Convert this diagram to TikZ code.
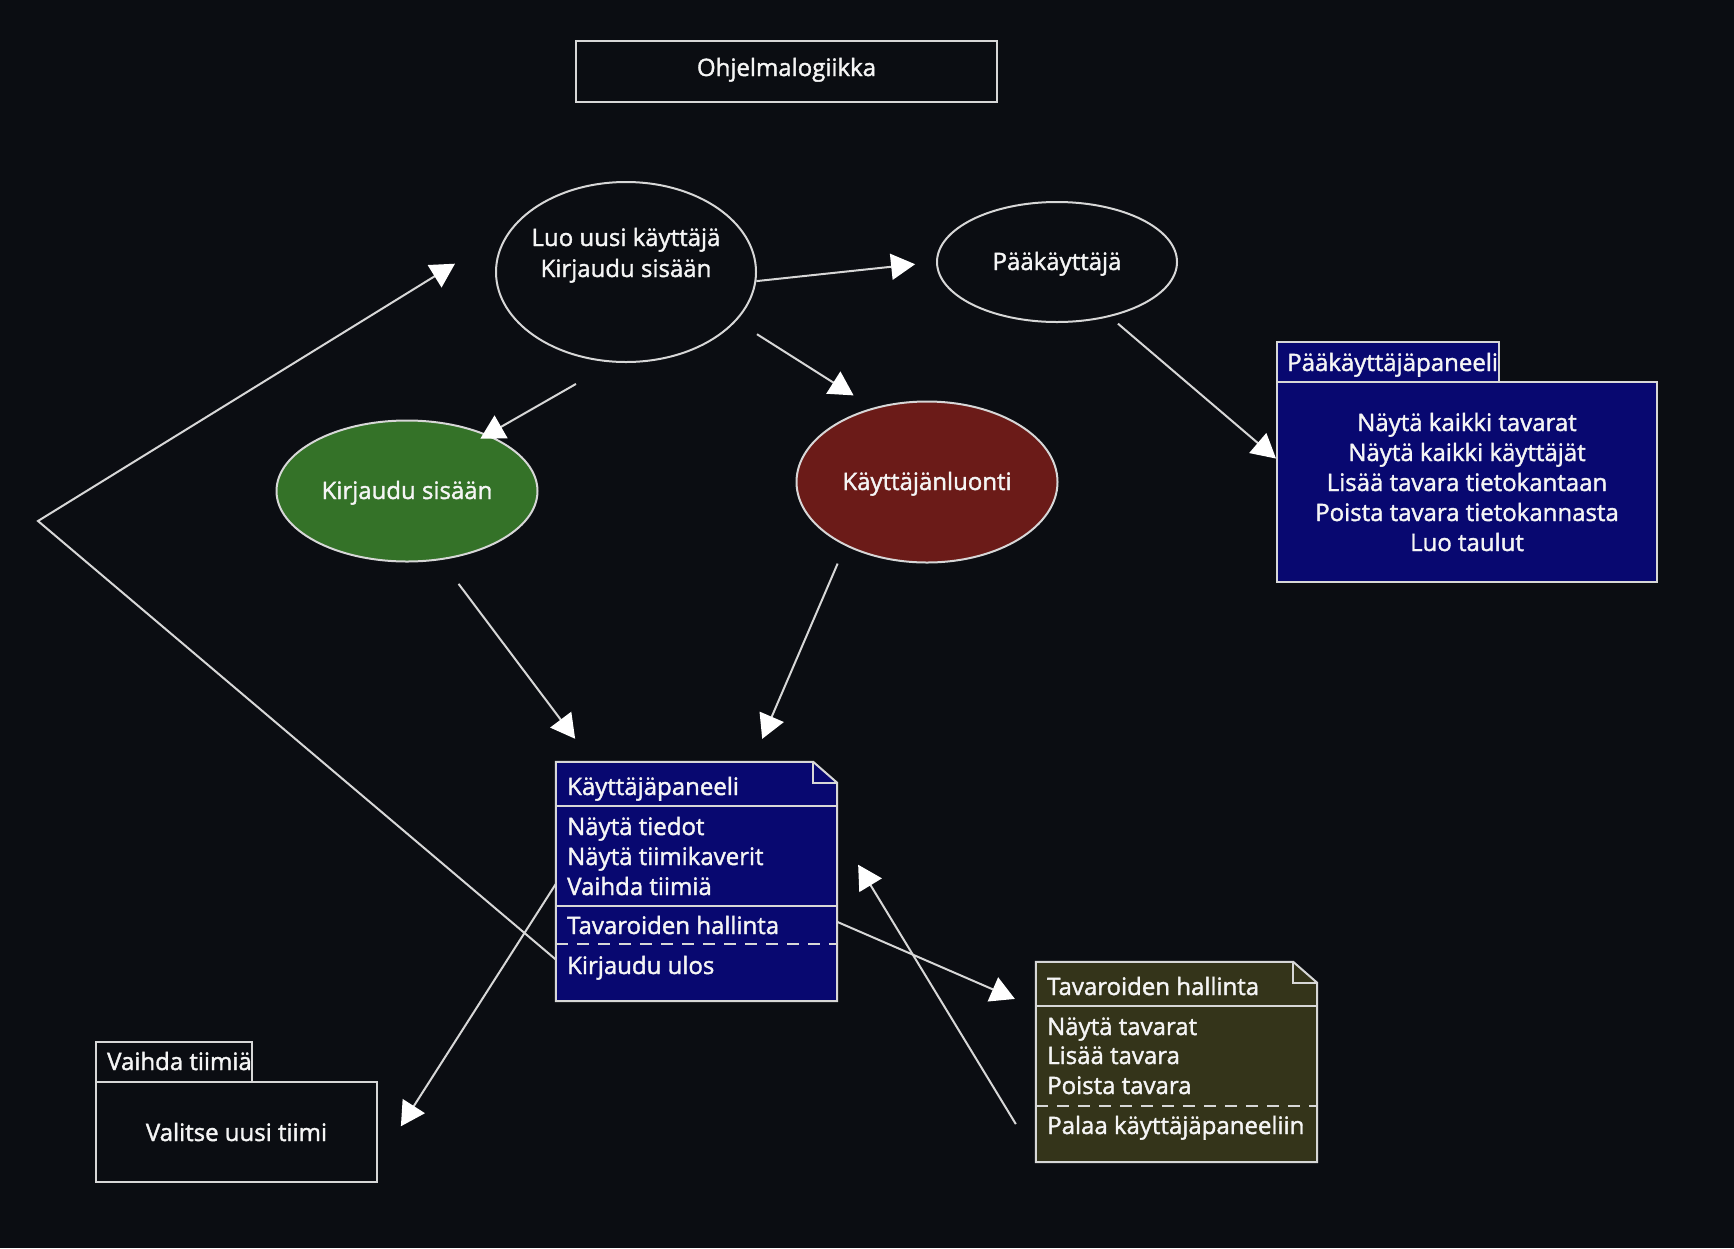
\documentclass[tikz,border=0pt]{standalone}
\usepackage{fontspec}
\setmainfont{Open Sans}
\newfontfamily\heavyfont{Open Sans}[FakeBold=1.6]
\usetikzlibrary{shapes.geometric,arrows.meta,calc}
\definecolor{bgc}{RGB}{11,13,18}
\definecolor{linec}{RGB}{215,215,215}
\definecolor{txtc}{RGB}{245,245,245}
\definecolor{navyc}{RGB}{8,8,112}
\definecolor{greenc}{RGB}{52,114,40}
\definecolor{redc}{RGB}{107,27,24}
\definecolor{olivec}{RGB}{52,52,26}
\begin{document}
\begin{tikzpicture}[x=1pt,y=-1pt,
  every node/.style={text=txtc, font=\heavyfont\fontsize{24}{30}\selectfont},
  ell/.style={ellipse, draw=linec, line width=2pt, inner sep=0pt, text height=17pt, text depth=1pt},
  ltxt/.style={inner sep=0pt, anchor=base west},
  ctxt/.style={inner sep=0pt, anchor=base},
  box/.style={rectangle, draw=linec, line width=2pt, inner sep=0pt},
  frame/.style={rectangle, inner sep=0pt},
  sepline/.style={draw=linec, line width=2pt},
  dashsep/.style={draw=linec, line width=2pt, dash pattern=on 12pt off 9pt},
  conn/.style={draw=linec, line width=2pt, -{Triangle[length=24pt,width=26pt,color=white]}},
]
\fill[bgc] (0,0) rectangle (1734,1248);
\useasboundingbox (0,0) rectangle (1734,1248);

% title
\node[box, minimum width=421pt, minimum height=61pt] (title) at (786.5,71.5) {};
\node[ctxt] (titlet) at (786.5,76) {Ohjelmalogiikka};

% ellipses
\node[ell, minimum width=260pt, minimum height=180pt] (e1) at (626,272) {};
\node[ctxt] (e1a) at (626,246) {Luo uusi käyttäjä};
\node[ctxt] (e1b) at (626,277) {Kirjaudu sisään};
\node[ell, minimum width=240pt, minimum height=120pt] (pk) at (1057,262) {Pääkäyttäjä};
\node[ell, fill=greenc, minimum width=261pt, minimum height=141pt] (ks) at (407,491) {Kirjaudu sisään};
\node[ell, fill=redc, minimum width=261pt, minimum height=161pt] (kl) at (927,482) {Käyttäjänluonti};

% Pääkäyttäjäpaneeli
\node[box, fill=navyc, minimum width=222pt, minimum height=40pt] (pkpt) at (1388,362) {};
\node[ltxt] (pkptt) at (1287,371) {Pääkäyttäjäpaneeli};
\node[box, fill=navyc, minimum width=380pt, minimum height=200pt] (pkp) at (1467,482) {};
\node[ctxt] (pkp1) at (1467,431) {Näytä kaikki tavarat};
\node[ctxt] (pkp2) at (1467,461) {Näytä kaikki käyttäjät};
\node[ctxt] (pkp3) at (1467,491) {Lisää tavara tietokantaan};
\node[ctxt] (pkp4) at (1467,521) {Poista tavara tietokannasta};
\node[ctxt] (pkp5) at (1467,551) {Luo taulut};

% Vaihda tiimiä
\node[box, minimum width=156pt, minimum height=40pt] (vtt) at (174,1062) {};
\node[ltxt] (vttt) at (107,1070) {Vaihda tiimiä};
\node[box, minimum width=281pt, minimum height=100pt] (vt) at (236.5,1132) {};
\node[ctxt] (vtb) at (236.5,1141) {Valitse uusi tiimi};

% Käyttäjäpaneeli
\node[frame, minimum width=281pt, minimum height=239pt] (kp) at (696.5,881.5) {};
\draw[line width=2pt, draw=linec, fill=navyc] (kp.north west) -- ([xshift=-24pt]kp.north east) -- ([yshift=-21pt]kp.north east) -- (kp.south east) -- (kp.south west) -- cycle;
\draw[sepline] ([xshift=-24pt]kp.north east) -- ++(0,21) -- ([yshift=-21pt]kp.north east);
\draw[sepline] ([yshift=-44pt]kp.north west) -- ([yshift=-44pt]kp.north east);
\draw[sepline] ([yshift=-144pt]kp.north west) -- ([yshift=-144pt]kp.north east);
\draw[dashsep] ([yshift=-182pt]kp.north west) -- ([yshift=-182pt]kp.north east);
\node[ltxt] (kph) at (567,795) {Käyttäjäpaneeli};
\node[ltxt] (kp1) at (567,835) {Näytä tiedot};
\node[ltxt] (kp2) at (567,865) {Näytä tiimikaverit};
\node[ltxt] (kp3) at (567,895) {Vaihda tiimiä};
\node[ltxt] (kp4) at (567,934) {Tavaroiden hallinta};
\node[ltxt] (kp5) at (567,974) {Kirjaudu ulos};

% Tavaroiden hallinta
\node[frame, minimum width=281pt, minimum height=200pt] (th) at (1176.5,1062) {};
\draw[line width=2pt, draw=linec, fill=olivec] (th.north west) -- ([xshift=-24pt]th.north east) -- ([yshift=-21pt]th.north east) -- (th.south east) -- (th.south west) -- cycle;
\draw[sepline] ([xshift=-24pt]th.north east) -- ++(0,21) -- ([yshift=-21pt]th.north east);
\draw[sepline] ([yshift=-44pt]th.north west) -- ([yshift=-44pt]th.north east);
\draw[dashsep] ([yshift=-144pt]th.north west) -- ([yshift=-144pt]th.north east);
\node[ltxt] (thh) at (1047,995) {Tavaroiden hallinta};
\node[ltxt] (th1) at (1047,1035) {Näytä tavarat};
\node[ltxt] (th2) at (1047,1064) {Lisää tavara};
\node[ltxt] (th3) at (1047,1094) {Poista tavara};
\node[ltxt] (th4) at (1047,1134) {Palaa käyttäjäpaneeliin};

% connectors
\coordinate (corner) at (38,521);
\draw[conn, shorten >=21pt] (e1.-4) -- (pk.west);
\draw[conn, shorten <=24.5pt, shorten >=23pt] (e1.-24.5) -- (kl.126.8);
\draw[conn, shorten <=43pt, shorten >=-8.5pt] (e1.-98) -- (ks.35.6);
\draw[conn, shorten <=10.5pt] (pk.-46) -- (pkp.173.1);
\draw[conn, shorten <=29.7pt, shorten >=28.8pt] (ks.-64.9) -- (kp.131.1);
\draw[conn, shorten <=19.3pt, shorten >=25pt] (kl.-142.9) -- (kp.65.4);
\draw[conn, shorten >=64.6pt] (kp.209.8) -- (corner) -- (e1.160.5);
\draw[conn, shorten >=42.5pt] (kp.181.4) -- (vt.-12.8);
\draw[conn, shorten >=22.8pt] (kp.-16.5) -- (th.159);
\draw[conn, shorten <=38.4pt, shorten >=40.3pt] (th.-146.5) -- (kp.20.6);
\end{tikzpicture}
\end{document}
